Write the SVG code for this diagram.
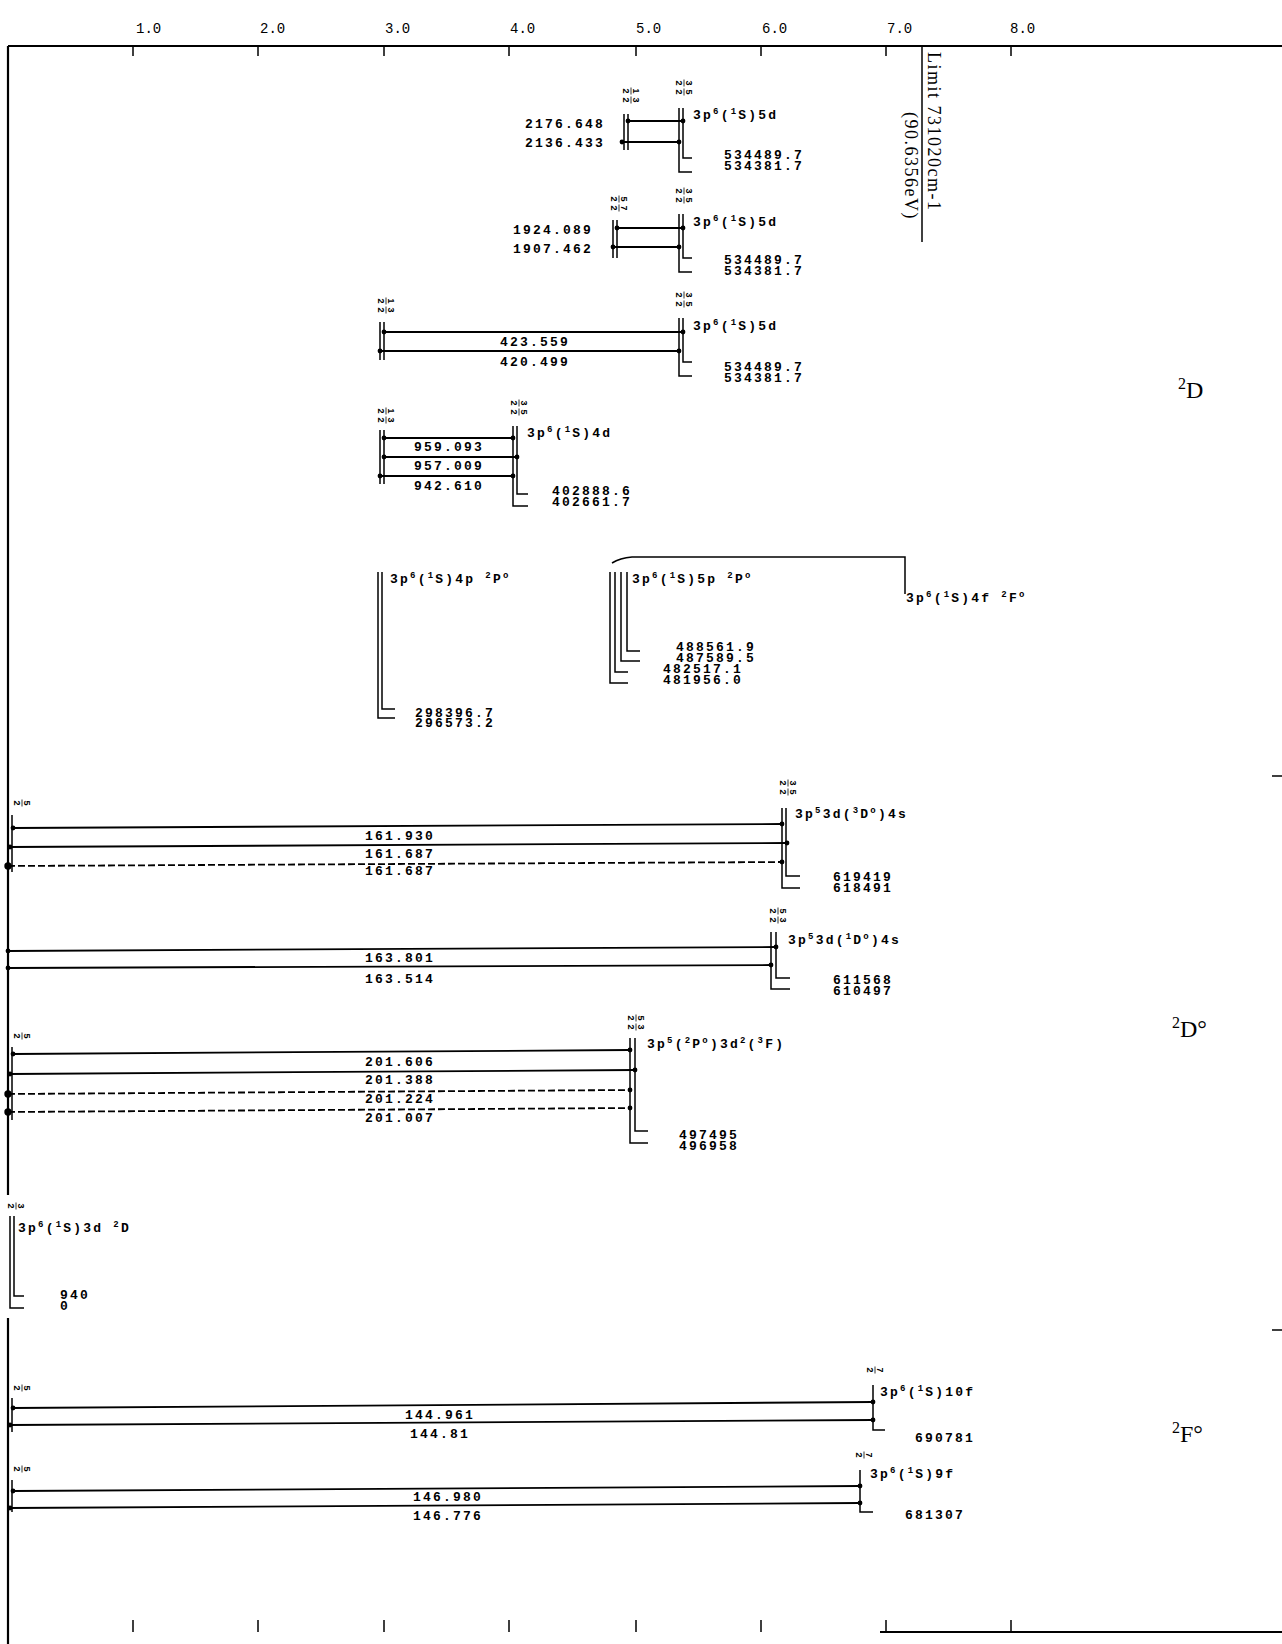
<svg xmlns="http://www.w3.org/2000/svg" width="1282" height="1644" viewBox="0 0 1282 1644">
<style>
.ln{stroke:#000;stroke-width:1.5;fill:none}
.tr{stroke:#000;stroke-width:1.8;fill:none;marker-start:url(#dt);marker-end:url(#dt)}
.ds{stroke:#000;stroke-width:1.8;fill:none;stroke-dasharray:7 3;marker-start:url(#bd);marker-end:url(#dt)}
.ax{stroke:#000;stroke-width:2.2;fill:none}
.n{font-family:"Liberation Mono","DejaVu Sans Mono",monospace;font-size:13px;font-weight:bold;letter-spacing:2.2px;fill:#000}
.c{font-family:"Liberation Mono","DejaVu Sans Mono",monospace;font-size:13px;font-weight:bold;letter-spacing:2.2px;fill:#000}
.s{font-size:9px}
.m{text-anchor:middle}
.e{text-anchor:end}
.al{font-family:"Liberation Mono","DejaVu Sans Mono",monospace;font-size:14px;fill:#000}
.fr{font-family:"Liberation Sans",sans-serif;font-size:9px;font-weight:bold;text-anchor:middle;fill:#000}
.fb{stroke:#000;stroke-width:0.8}
.term{font-family:"Liberation Serif",serif;font-size:24px;fill:#000}
.lim{font-family:"Liberation Serif",serif;font-size:18px;letter-spacing:1.5px;fill:#000}
</style>
<defs>
<marker id="dt" viewBox="0 0 6 6" refX="3" refY="3" markerWidth="6" markerHeight="6" markerUnits="userSpaceOnUse"><circle cx="3" cy="3" r="2.4"/></marker>
<marker id="bd" viewBox="0 0 8 8" refX="4" refY="4" markerWidth="8" markerHeight="8" markerUnits="userSpaceOnUse"><circle cx="4" cy="4" r="3.7"/></marker>
</defs>
<rect width="1282" height="1644" fill="#fff"/>

<g id="axes">
<path class="ax" d="M8,46 H1282 M8,46 V1195 M8,1318 V1644"/>
<path class="ln" d="M133,46 V56 M258,46 V56 M384,46 V56 M509,46 V56 M636,46 V56 M761,46 V56 M886,46 V56 M1011,46 V56"/>
<text class="al" x="136" y="33">1.0</text>
<text class="al" x="260" y="33">2.0</text>
<text class="al" x="385" y="33">3.0</text>
<text class="al" x="510" y="33">4.0</text>
<text class="al" x="636" y="33">5.0</text>
<text class="al" x="762" y="33">6.0</text>
<text class="al" x="887" y="33">7.0</text>
<text class="al" x="1010" y="33">8.0</text>
<path class="ln" d="M133,1632 V1620 M258,1632 V1620 M384,1632 V1620 M509,1632 V1620 M636,1632 V1620 M761,1632 V1620 M886,1632 V1620 M1011,1632 V1620"/>
<path class="ax" d="M880,1632 H1282"/>
<path class="ln" d="M1272,776 H1282 M1272,1330 H1282"/>
<path class="ln" d="M922,46 V242"/>
<text class="lim" transform="translate(928,52) rotate(90)">Limit 731020cm-1</text>
<text class="lim" transform="translate(905,112) rotate(90)" letter-spacing="2.6">(90.6356eV)</text>
<text class="term" x="1178" y="398"><tspan font-size="16" dy="-9">2</tspan><tspan dy="9">D</tspan></text>
<text class="term" x="1172" y="1037"><tspan font-size="16" dy="-9">2</tspan><tspan dy="9">D°</tspan></text>
<text class="term" x="1172" y="1442"><tspan font-size="16" dy="-9">2</tspan><tspan dy="9">F°</tspan></text>
</g>

<g id="lvA">
<g transform="translate(631,87) rotate(90)"><text class="fr" x="4" y="-1.5">1</text><line class="fb" x1="0.5" y1="0" x2="7.5" y2="0"/><text class="fr" x="4" y="8">2</text><text class="fr" x="13" y="-1.5">3</text><line class="fb" x1="9.5" y1="0" x2="16.5" y2="0"/><text class="fr" x="13" y="8">2</text></g>
<g transform="translate(684,79) rotate(90)"><text class="fr" x="4" y="-1.5">3</text><line class="fb" x1="0.5" y1="0" x2="7.5" y2="0"/><text class="fr" x="4" y="8">2</text><text class="fr" x="13" y="-1.5">5</text><line class="fb" x1="9.5" y1="0" x2="16.5" y2="0"/><text class="fr" x="13" y="8">2</text></g>
<path class="ln" d="M624,114 V150 M628,114 V150 M683,108 V158 H692 M679,108 V172 H692"/>
<text class="c" x="693" y="119">3p<tspan class="s" dy="-5">6</tspan><tspan dy="5">(</tspan><tspan class="s" dy="-5">1</tspan><tspan dy="5">S)5d</tspan></text>
<text class="n e" x="605" y="128">2176.648</text>
<text class="n e" x="605" y="147">2136.433</text>
<text class="n" x="724" y="159">534489.7</text>
<text class="n" x="724" y="170">534381.7</text>
</g>

<g id="lvB">
<g transform="translate(619,195) rotate(90)"><text class="fr" x="4" y="-1.5">5</text><line class="fb" x1="0.5" y1="0" x2="7.5" y2="0"/><text class="fr" x="4" y="8">2</text><text class="fr" x="13" y="-1.5">7</text><line class="fb" x1="9.5" y1="0" x2="16.5" y2="0"/><text class="fr" x="13" y="8">2</text></g>
<g transform="translate(684,187) rotate(90)"><text class="fr" x="4" y="-1.5">3</text><line class="fb" x1="0.5" y1="0" x2="7.5" y2="0"/><text class="fr" x="4" y="8">2</text><text class="fr" x="13" y="-1.5">5</text><line class="fb" x1="9.5" y1="0" x2="16.5" y2="0"/><text class="fr" x="13" y="8">2</text></g>
<path class="ln" d="M613,220 V258 M617,220 V258 M683,214 V258 H692 M679,214 V272 H692"/>
<text class="c" x="693" y="226">3p<tspan class="s" dy="-5">6</tspan><tspan dy="5">(</tspan><tspan class="s" dy="-5">1</tspan><tspan dy="5">S)5d</tspan></text>
<text class="n e" x="593" y="234">1924.089</text>
<text class="n e" x="593" y="253">1907.462</text>
<text class="n" x="724" y="264">534489.7</text>
<text class="n" x="724" y="275">534381.7</text>
</g>

<g id="lvC">
<g transform="translate(386,297) rotate(90)"><text class="fr" x="4" y="-1.5">1</text><line class="fb" x1="0.5" y1="0" x2="7.5" y2="0"/><text class="fr" x="4" y="8">2</text><text class="fr" x="13" y="-1.5">3</text><line class="fb" x1="9.5" y1="0" x2="16.5" y2="0"/><text class="fr" x="13" y="8">2</text></g>
<g transform="translate(684,291) rotate(90)"><text class="fr" x="4" y="-1.5">3</text><line class="fb" x1="0.5" y1="0" x2="7.5" y2="0"/><text class="fr" x="4" y="8">2</text><text class="fr" x="13" y="-1.5">5</text><line class="fb" x1="9.5" y1="0" x2="16.5" y2="0"/><text class="fr" x="13" y="8">2</text></g>
<path class="ln" d="M380,322 V360 M384,322 V360 M683,318 V362 H692 M679,318 V376 H692"/>
<text class="c" x="693" y="330">3p<tspan class="s" dy="-5">6</tspan><tspan dy="5">(</tspan><tspan class="s" dy="-5">1</tspan><tspan dy="5">S)5d</tspan></text>
<text class="n" x="724" y="371">534489.7</text>
<text class="n" x="724" y="382">534381.7</text>
</g>

<g id="lvD">
<g transform="translate(386,407) rotate(90)"><text class="fr" x="4" y="-1.5">1</text><line class="fb" x1="0.5" y1="0" x2="7.5" y2="0"/><text class="fr" x="4" y="8">2</text><text class="fr" x="13" y="-1.5">3</text><line class="fb" x1="9.5" y1="0" x2="16.5" y2="0"/><text class="fr" x="13" y="8">2</text></g>
<g transform="translate(519,399) rotate(90)"><text class="fr" x="4" y="-1.5">3</text><line class="fb" x1="0.5" y1="0" x2="7.5" y2="0"/><text class="fr" x="4" y="8">2</text><text class="fr" x="13" y="-1.5">5</text><line class="fb" x1="9.5" y1="0" x2="16.5" y2="0"/><text class="fr" x="13" y="8">2</text></g>
<path class="ln" d="M380,430 V484 M384,430 V484 M517,426 V494 H528 M513,426 V506 H528"/>
<text class="c" x="527" y="437">3p<tspan class="s" dy="-5">6</tspan><tspan dy="5">(</tspan><tspan class="s" dy="-5">1</tspan><tspan dy="5">S)4d</tspan></text>
<text class="n" x="552" y="495">402888.6</text>
<text class="n" x="552" y="506">402661.7</text>
</g>

<g id="lv4p">
<path class="ln" d="M382,572 V709 H395 M378,572 V718 H395"/>
<text class="c" x="390" y="583">3p<tspan class="s" dy="-5">6</tspan><tspan dy="5">(</tspan><tspan class="s" dy="-5">1</tspan><tspan dy="5">S)4p  </tspan><tspan class="s" dy="-5">2</tspan><tspan dy="5">P</tspan><tspan class="s" dy="-5">o</tspan></text>
<text class="n" x="415" y="717">298396.7</text>
<text class="n" x="415" y="727">296573.2</text>
</g>

<g id="lv5p">
<path class="ln" d="M627,572 V651 H640 M621,572 V661 H640 M615,572 V672 H628 M610,572 V683 H628"/>
<text class="c" x="632" y="583">3p<tspan class="s" dy="-5">6</tspan><tspan dy="5">(</tspan><tspan class="s" dy="-5">1</tspan><tspan dy="5">S)5p  </tspan><tspan class="s" dy="-5">2</tspan><tspan dy="5">P</tspan><tspan class="s" dy="-5">o</tspan></text>
<text class="n" x="676" y="651">488561.9</text>
<text class="n" x="676" y="662">487589.5</text>
<text class="n" x="663" y="673">482517.1</text>
<text class="n" x="663" y="684">481956.0</text>
</g>

<g id="lv4f">
<text class="c" x="906" y="602">3p<tspan class="s" dy="-5">6</tspan><tspan dy="5">(</tspan><tspan class="s" dy="-5">1</tspan><tspan dy="5">S)4f  </tspan><tspan class="s" dy="-5">2</tspan><tspan dy="5">F</tspan><tspan class="s" dy="-5">o</tspan></text>
</g>

<g id="lvF">
<g transform="translate(22,799) rotate(90)"><text class="fr" x="4" y="-1.5">5</text><line class="fb" x1="0.5" y1="0" x2="7.5" y2="0"/><text class="fr" x="4" y="8">2</text></g>
<g transform="translate(788,779) rotate(90)"><text class="fr" x="4" y="-1.5">3</text><line class="fb" x1="0.5" y1="0" x2="7.5" y2="0"/><text class="fr" x="4" y="8">2</text><text class="fr" x="13" y="-1.5">5</text><line class="fb" x1="9.5" y1="0" x2="16.5" y2="0"/><text class="fr" x="13" y="8">2</text></g>
<path class="ln" d="M12,815 V872 M786,808 V876 H800 M782,808 V888 H800"/>
<text class="c" x="795" y="818">3p<tspan class="s" dy="-5">5</tspan><tspan dy="5">3d(</tspan><tspan class="s" dy="-5">3</tspan><tspan dy="5">D</tspan><tspan class="s" dy="-5">o</tspan><tspan dy="5">)4s</tspan></text>
<text class="n" x="833" y="881">619419</text>
<text class="n" x="833" y="892">618491</text>
</g>

<g id="lvG">
<g transform="translate(778,907) rotate(90)"><text class="fr" x="4" y="-1.5">5</text><line class="fb" x1="0.5" y1="0" x2="7.5" y2="0"/><text class="fr" x="4" y="8">2</text><text class="fr" x="13" y="-1.5">3</text><line class="fb" x1="9.5" y1="0" x2="16.5" y2="0"/><text class="fr" x="13" y="8">2</text></g>
<path class="ln" d="M776,932 V978 H790 M771,932 V989 H790"/>
<text class="c" x="788" y="944">3p<tspan class="s" dy="-5">5</tspan><tspan dy="5">3d(</tspan><tspan class="s" dy="-5">1</tspan><tspan dy="5">D</tspan><tspan class="s" dy="-5">o</tspan><tspan dy="5">)4s</tspan></text>
<text class="n" x="833" y="984">611568</text>
<text class="n" x="833" y="995">610497</text>
</g>

<g id="lvH">
<g transform="translate(22,1032) rotate(90)"><text class="fr" x="4" y="-1.5">5</text><line class="fb" x1="0.5" y1="0" x2="7.5" y2="0"/><text class="fr" x="4" y="8">2</text></g>
<g transform="translate(636,1014) rotate(90)"><text class="fr" x="4" y="-1.5">5</text><line class="fb" x1="0.5" y1="0" x2="7.5" y2="0"/><text class="fr" x="4" y="8">2</text><text class="fr" x="13" y="-1.5">3</text><line class="fb" x1="9.5" y1="0" x2="16.5" y2="0"/><text class="fr" x="13" y="8">2</text></g>
<path class="ln" d="M12,1047 V1120 M635,1038 V1131 H648 M630,1038 V1143 H648"/>
<text class="c" x="647" y="1048">3p<tspan class="s" dy="-5">5</tspan><tspan dy="5">(</tspan><tspan class="s" dy="-5">2</tspan><tspan dy="5">P</tspan><tspan class="s" dy="-5">o</tspan><tspan dy="5">)3d</tspan><tspan class="s" dy="-5">2</tspan><tspan dy="5">(</tspan><tspan class="s" dy="-5">3</tspan><tspan dy="5">F)</tspan></text>
<text class="n" x="679" y="1139">497495</text>
<text class="n" x="679" y="1150">496958</text>
</g>

<g id="lv3d">
<g transform="translate(16,1202) rotate(90)"><text class="fr" x="4" y="-1.5">3</text><line class="fb" x1="0.5" y1="0" x2="7.5" y2="0"/><text class="fr" x="4" y="8">2</text></g>
<path class="ln" d="M14,1216 V1296 H24 M10,1216 V1308 H24"/>
<text class="c" x="18" y="1232">3p<tspan class="s" dy="-5">6</tspan><tspan dy="5">(</tspan><tspan class="s" dy="-5">1</tspan><tspan dy="5">S)3d  </tspan><tspan class="s" dy="-5">2</tspan><tspan dy="5">D</tspan></text>
<text class="n" x="60" y="1299">940</text>
<text class="n" x="60" y="1310">0</text>
</g>

<g id="lv10f">
<g transform="translate(22,1384) rotate(90)"><text class="fr" x="4" y="-1.5">5</text><line class="fb" x1="0.5" y1="0" x2="7.5" y2="0"/><text class="fr" x="4" y="8">2</text></g>
<g transform="translate(875,1366) rotate(90)"><text class="fr" x="4" y="-1.5">7</text><line class="fb" x1="0.5" y1="0" x2="7.5" y2="0"/><text class="fr" x="4" y="8">2</text></g>
<path class="ln" d="M12,1398 V1432 M873,1385 V1430 H885"/>
<text class="c" x="880" y="1396">3p<tspan class="s" dy="-5">6</tspan><tspan dy="5">(</tspan><tspan class="s" dy="-5">1</tspan><tspan dy="5">S)10f</tspan></text>
<text class="n" x="915" y="1442">690781</text>
</g>

<g id="lv9f">
<g transform="translate(22,1465) rotate(90)"><text class="fr" x="4" y="-1.5">5</text><line class="fb" x1="0.5" y1="0" x2="7.5" y2="0"/><text class="fr" x="4" y="8">2</text></g>
<g transform="translate(864,1451) rotate(90)"><text class="fr" x="4" y="-1.5">7</text><line class="fb" x1="0.5" y1="0" x2="7.5" y2="0"/><text class="fr" x="4" y="8">2</text></g>
<path class="ln" d="M12,1480 V1512 M860,1470 V1512 H873"/>
<text class="c" x="870" y="1478">3p<tspan class="s" dy="-5">6</tspan><tspan dy="5">(</tspan><tspan class="s" dy="-5">1</tspan><tspan dy="5">S)9f</tspan></text>
<text class="n" x="905" y="1519">681307</text>
</g>

<g id="connectors">
<path class="tr" d="M628,121 H683"/>
<path class="tr" d="M622,142 H679"/>
<path class="tr" d="M617,228 H683"/>
<path class="tr" d="M613,247 H679"/>
<path class="tr" d="M384,332 H683"/>
<path class="tr" d="M380,351 H679"/>
<path class="tr" d="M384,438 H513"/>
<path class="tr" d="M384,457 H517"/>
<path class="tr" d="M380,476 H513"/>
<path class="ln" d="M905,594 V557 H632 Q620,558 612,563"/>
<path class="tr" d="M13,828 L782,824"/>
<path class="tr" d="M10,847 L787,843"/>
<path class="ds" d="M8,866 L782,862"/>
<path class="tr" d="M8,951 L776,947"/>
<path class="tr" d="M8,968 L771,965"/>
<path class="tr" d="M13,1054 L630,1050"/>
<path class="tr" d="M10,1074 L635,1070"/>
<path class="ds" d="M8,1094 L630,1090"/>
<path class="ds" d="M8,1112 L630,1108"/>
<path class="tr" d="M13,1408 L873,1402"/>
<path class="tr" d="M10,1425 L873,1420"/>
<path class="tr" d="M13,1491 L860,1486"/>
<path class="tr" d="M10,1508 L860,1503"/>
</g>

<g id="wavelengths">
<text class="n m" x="535" y="346">423.559</text>
<text class="n m" x="535" y="366">420.499</text>
<text class="n m" x="449" y="451">959.093</text>
<text class="n m" x="449" y="470">957.009</text>
<text class="n m" x="449" y="490">942.610</text>
<text class="n m" x="400" y="840">161.930</text>
<text class="n m" x="400" y="858">161.687</text>
<text class="n m" x="400" y="875">161.687</text>
<text class="n m" x="400" y="962">163.801</text>
<text class="n m" x="400" y="983">163.514</text>
<text class="n m" x="400" y="1066">201.606</text>
<text class="n m" x="400" y="1084">201.388</text>
<text class="n m" x="400" y="1103">201.224</text>
<text class="n m" x="400" y="1122">201.007</text>
<text class="n m" x="440" y="1419">144.961</text>
<text class="n m" x="440" y="1438">144.81</text>
<text class="n m" x="448" y="1501">146.980</text>
<text class="n m" x="448" y="1520">146.776</text>
</g>
</svg>
